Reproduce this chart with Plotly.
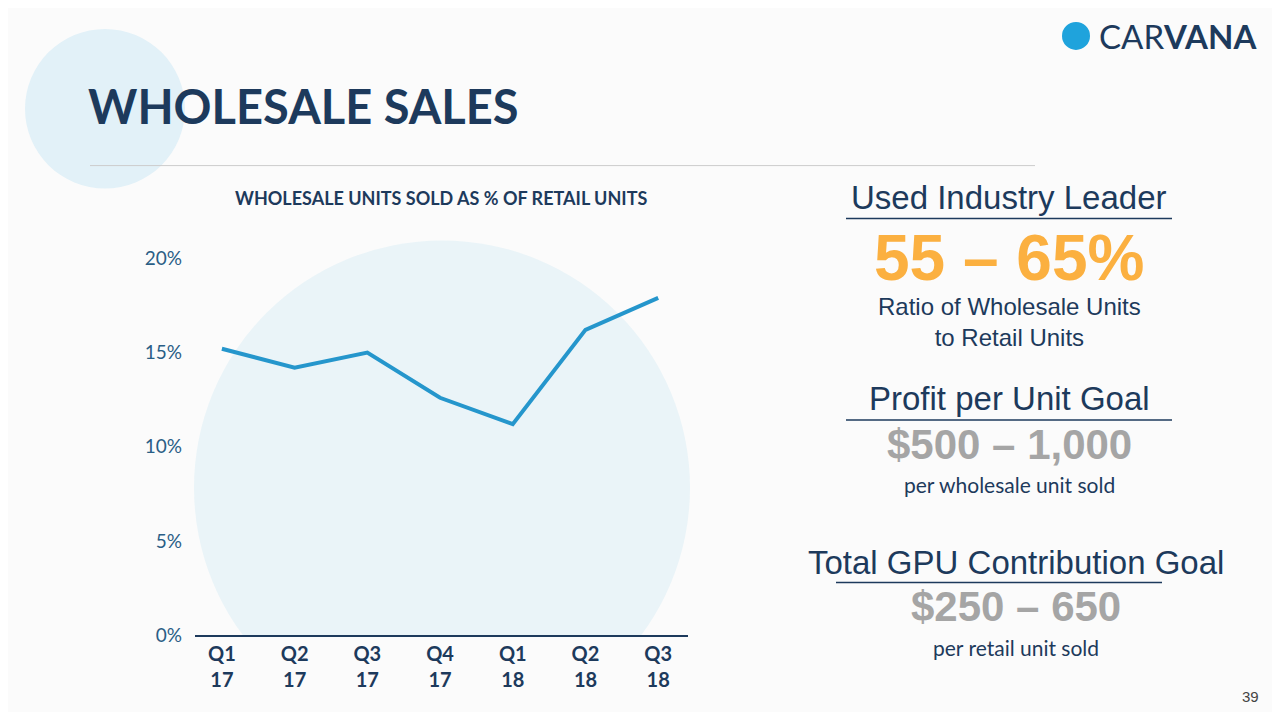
import plotly.graph_objects as go

quarters = ["Q1<br>17","Q2<br>17","Q3<br>17","Q4<br>17","Q1<br>18","Q2<br>18","Q3<br>18"]
values = [15.2, 14.2, 15.0, 12.6, 11.2, 16.2, 17.9]
yticks = [0, 5, 10, 15, 20]
yticklabels = ["0%", "5%", "10%", "15%", "20%"]

W, H = 1264, 704
def px(x): return (x - 8) / W
def py(y):
    yc = (y + 0.9) / 0.987
    return 1 - (yc - 8) / H

navy = "#1d3a5c"
fig = go.Figure()
fig.add_trace(go.Scatter(x=list(range(len(values))), y=values, mode="lines",
                         line=dict(color="#2596cc", width=4), hoverinfo="skip"))

shapes = [
    dict(type="circle", xref="paper", yref="paper", layer="below",
         x0=px(25), x1=px(185), y0=py(188), y1=py(28), fillcolor="#e2f1f8", line_width=0),
    dict(type="circle", xref="paper", yref="paper", layer="below",
         x0=px(194), x1=px(690), y0=py(736), y1=py(240), fillcolor="#eaf4f8", line_width=0),
    dict(type="rect", xref="paper", yref="paper", layer="below",
         x0=px(150), x1=px(720), y0=-0.05, y1=py(637), fillcolor="#fbfbfb", line_width=0),
    dict(type="line", xref="paper", yref="paper", x0=px(90), x1=px(1035), y0=py(165), y1=py(165),
         line=dict(color="#cccccc", width=1)),
    dict(type="line", xref="paper", yref="paper", x0=px(846), x1=px(1172), y0=py(218), y1=py(218),
         line=dict(color=navy, width=1.5)),
    dict(type="line", xref="paper", yref="paper", x0=px(846), x1=px(1172), y0=py(420), y1=py(420),
         line=dict(color=navy, width=1.5)),
    dict(type="line", xref="paper", yref="paper", x0=px(836), x1=px(1162), y0=py(583), y1=py(583),
         line=dict(color=navy, width=1.5)),
    dict(type="circle", xref="paper", yref="paper", x0=px(1062), x1=px(1090), y0=py(49), y1=py(21),
         fillcolor="#1fa3dc", line_width=0),
]

def ann(x, y, text, size, color, family="Liberation Sans, Arial", xanchor="center"):
    return dict(x=px(x), y=py(y), xref="paper", yref="paper", text=text, showarrow=False,
                font=dict(size=size, color=color, family=family), xanchor=xanchor, yanchor="middle")

annotations = [
    ann(86, 105, "<b>WHOLESALE SALES</b>", 47, navy, "Lato, Open Sans", "left"),
    ann(441, 198, "<b>WHOLESALE UNITS SOLD AS % OF RETAIL UNITS</b>", 18, navy, "Lato, Open Sans"),
    ann(1009, 197, "Used Industry Leader", 33, navy),
    ann(1009, 258, "<b>55 – 65%</b>", 64, "#fbb040"),
    ann(1009, 322, "Ratio of Wholesale Units<br>to Retail Units", 24, navy),
    ann(1009, 399, "Profit per Unit Goal", 33, navy),
    ann(1009, 445, "<b>$500 – 1,000</b>", 42, "#a5a5a5"),
    ann(1009, 485, "per wholesale unit sold", 21, navy, "Lato, Open Sans"),
    ann(1016, 563, "Total GPU Contribution Goal", 33, navy),
    ann(1016, 607, "<b>$250 – 650</b>", 42, "#a5a5a5"),
    ann(1016, 648, "per retail unit sold", 21, navy, "Lato, Open Sans"),
    ann(1097, 35, "CAR<b>VANA</b>", 33, "#1d3a5c", "Lato, Open Sans", "left"),
    ann(1250, 697, "39", 15, "#444444"),
]

fig.update_layout(
    width=W, height=H, margin=dict(l=0, r=0, t=0, b=0),
    paper_bgcolor="#fbfbfb", plot_bgcolor="rgba(0,0,0,0)", showlegend=False,
    shapes=shapes, annotations=annotations,
    xaxis=dict(domain=[px(195), px(688)], range=[-0.37, 6.41], tickmode="array",
               tickvals=list(range(len(quarters))), ticktext=[f"<b>{q}</b>" for q in quarters],
               showgrid=False, zeroline=False, showline=True, linecolor="#1d3a5c", linewidth=2,
               tickfont=dict(size=20, color=navy, family="Lato, Open Sans"), ticks=""),
    yaxis=dict(domain=[py(636), py(239)], range=[0, 21], tickmode="array", tickvals=yticks,
               ticktext=yticklabels, showgrid=False, zeroline=False, showline=False,
               tickfont=dict(size=19, color="#2a5e86", family="Lato, Open Sans"), ticks="",
               ticklabelstandoff=12),
)
fig.write_html("out.html")
